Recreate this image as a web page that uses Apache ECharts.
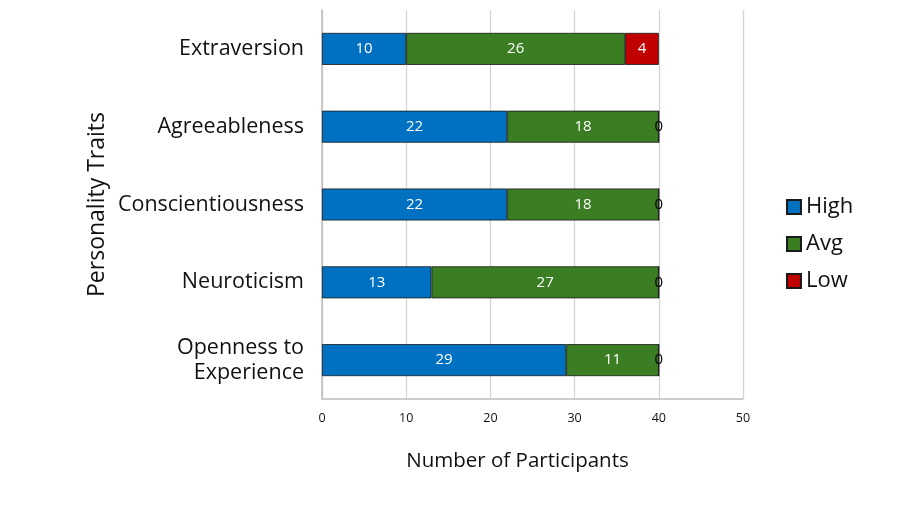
<!DOCTYPE html>
<html><head><meta charset="utf-8">
<script src="https://cdn.jsdelivr.net/npm/echarts@6/dist/echarts.min.js"></script>
<style>html,body{margin:0;padding:0;background:#fff}#c{width:897px;height:505px}</style>
</head><body><div id="c"></div>
<script>
const categories = ['Extraversion','Agreeableness','Conscientiousness','Neuroticism','Openness to\nExperience'];
const high = [10,22,22,13,29];
const avg = [26,18,18,27,11];
const low = [4,0,0,0,0];
const xTicks = [0,10,20,30,40,50];

const FONT = 'Open Sans';
function lowData(arr){
  return arr.map(v => ({value:v, label:{color: v>0 ? '#fff' : '#000'}}));
}
const chart = echarts.init(document.getElementById('c'));
chart.setOption({
  animation:false,
  textStyle:{fontFamily:FONT},
  grid:{left:322,right:154,top:10,bottom:106},
  legend:{
    orient:'vertical', left:781, top:189, itemGap:11, itemWidth:14, itemHeight:14,
    icon:'rect',
    textStyle:{fontSize:22,color:'#111',fontFamily:FONT,lineHeight:26},
    data:['High','Avg','Low']
  },
  xAxis:{
    type:'value', min:xTicks[0], max:xTicks[xTicks.length-1], interval:10,
    name:'Number of Participants', nameLocation:'middle', nameGap:52,
    nameTextStyle:{fontSize:20.5,color:'#111',fontFamily:FONT,padding:[0,30,0,0]},
    axisLine:{show:true,lineStyle:{color:'#bdbdbd',width:1.5}},
    axisTick:{show:false},
    axisLabel:{fontSize:12.5,color:'#111',margin:13},
    splitLine:{show:true,lineStyle:{color:'#d4d4d4',width:1.3}}
  },
  yAxis:{
    type:'category', data:categories, inverse:true,
    name:'Personality Traits', nameLocation:'middle', nameGap:213, nameRotate:90,
    nameTextStyle:{fontSize:23,color:'#111',fontFamily:FONT},
    axisLine:{show:true,lineStyle:{color:'#bdbdbd',width:1.5}},
    axisTick:{show:false},
    axisLabel:{fontSize:21.5,color:'#111',margin:18,lineHeight:25,align:'right'}
  },
  series:[
    {name:'High',type:'bar',stack:'t',data:high,barWidth:32,
     itemStyle:{color:'#0070C0',borderColor:'#1a1a1a',borderWidth:0.8},
     label:{show:true,color:'#fff',fontSize:15,position:'inside'}},
    {name:'Avg',type:'bar',stack:'t',data:avg,barWidth:32,
     itemStyle:{color:'#3A7D22',borderColor:'#1a1a1a',borderWidth:0.8},
     label:{show:true,color:'#fff',fontSize:15,position:'inside'}},
    {name:'Low',type:'bar',stack:'t',data:lowData(low),barWidth:32,
     itemStyle:{color:'#C00000',borderColor:'#1a1a1a',borderWidth:0.8},
     label:{show:true,fontSize:15,position:'inside'}}
  ]
});
</script></body></html>
